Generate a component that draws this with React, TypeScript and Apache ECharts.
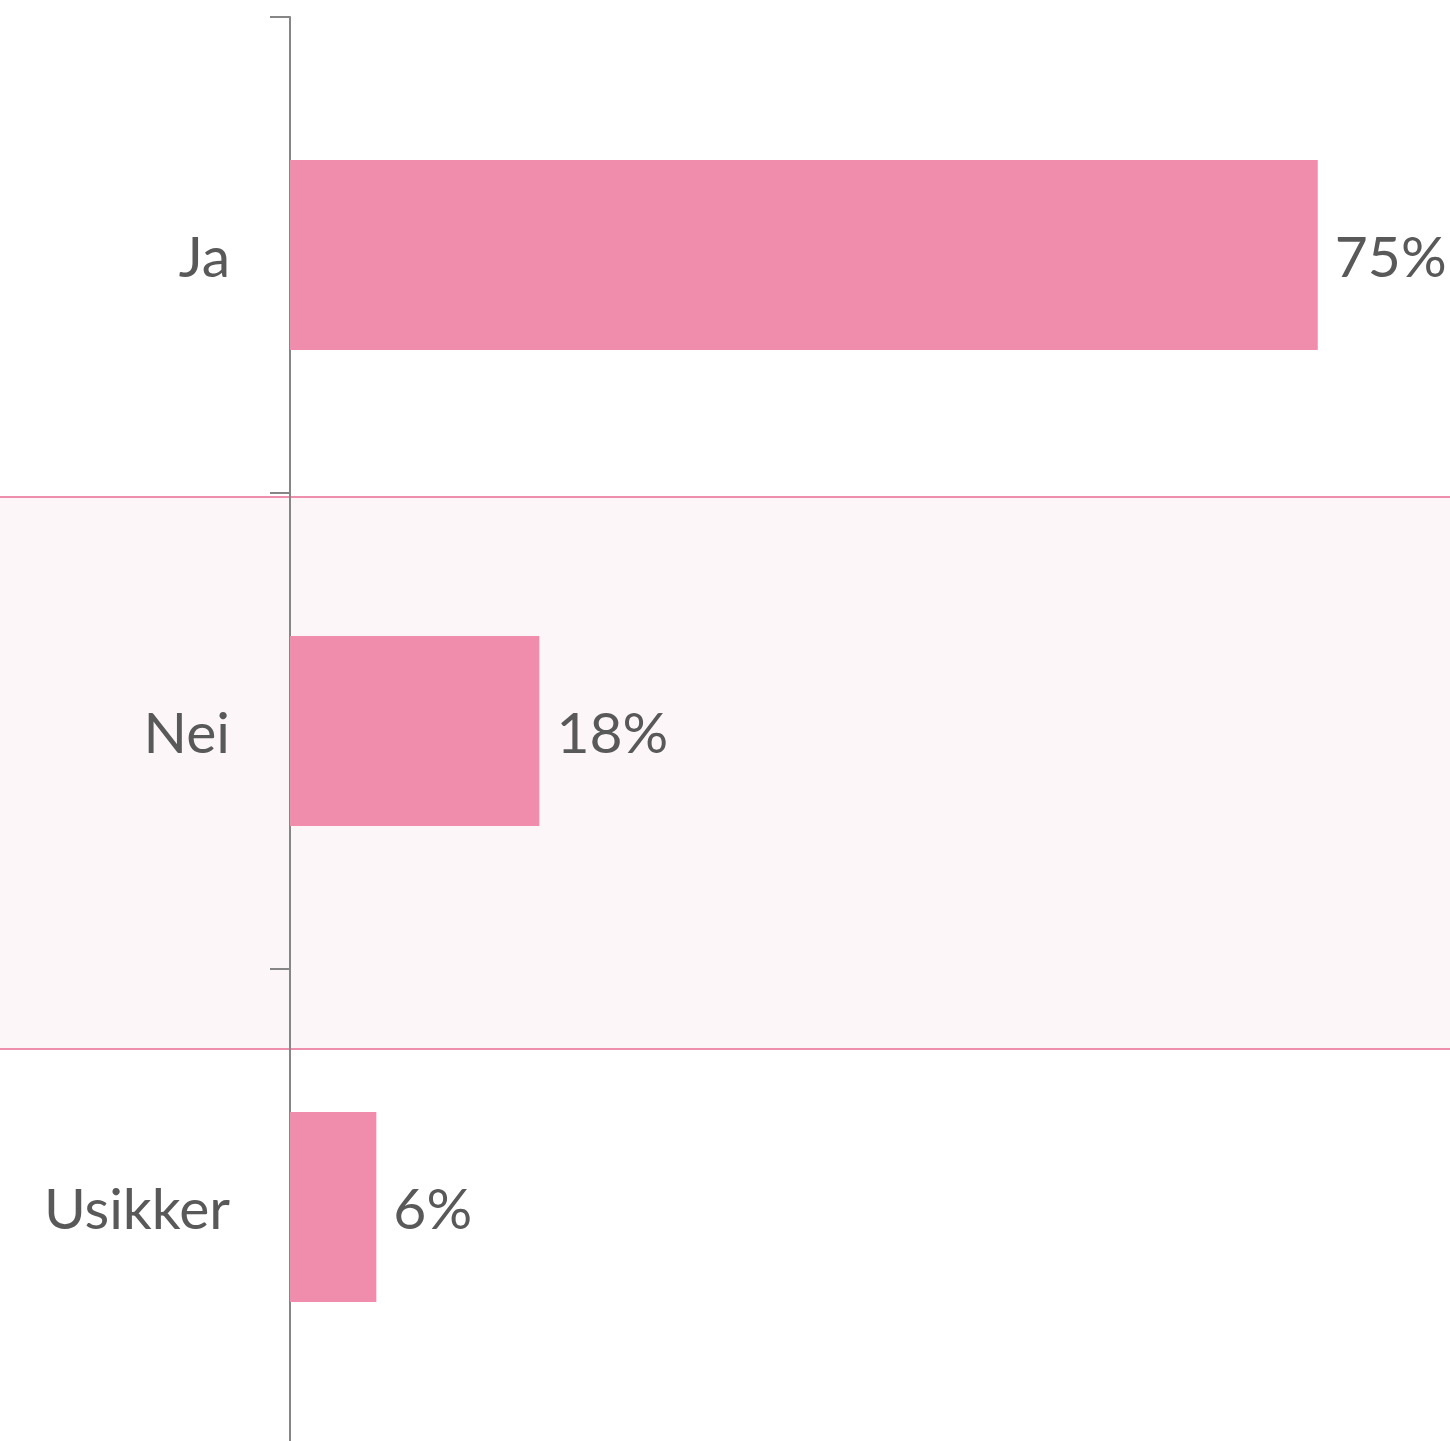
import React, { useEffect, useRef } from "react";
import * as echarts from "echarts";

const categories = ["Ja", "Nei", "Usikker"];
const values = [75, 18.2, 6.3];
const axisMax = 84.65;

export default function App() {
  const ref = useRef<HTMLDivElement>(null);
  useEffect(() => {
    if (!ref.current) return;
    const chart = echarts.init(ref.current, undefined, { renderer: "svg" });
    const font = "Lato, 'Open Sans', sans-serif";
    chart.setOption({
      animation: false,
      backgroundColor: "#ffffff",
      grid: { left: 290, top: 17, right: 0, bottom: 0, containLabel: false },
      xAxis: {
        type: "value",
        min: 0,
        max: axisMax,
        show: false,
      },
      yAxis: {
        type: "category",
        inverse: true,
        data: categories,
        axisLine: { show: true, lineStyle: { color: "#868686", width: 2 } },
        axisTick: { show: true, length: 20, lineStyle: { color: "#868686", width: 2 } },
        axisLabel: { margin: 60, fontSize: 57, color: "#595959", fontFamily: font },
        splitLine: { show: false },
      },
      graphic: [
        {
          type: "rect",
          z: -1,
          shape: { x: 0, y: 497, width: 1450, height: 552 },
          style: { fill: "#fdf6f9" },
        },
        {
          type: "line",
          z: -1,
          shape: { x1: 0, y1: 497, x2: 1450, y2: 497 },
          style: { stroke: "#ee8fae", lineWidth: 2 },
        },
        {
          type: "line",
          z: -1,
          shape: { x1: 0, y1: 1049, x2: 1450, y2: 1049 },
          style: { stroke: "#ee8fae", lineWidth: 2 },
        },
      ],
      series: [
        {
          type: "bar",
          data: values,
          barWidth: 190,
          itemStyle: { color: "#f08dac" },
          label: {
            show: true,
            position: "right",
            distance: 17,
            fontSize: 57,
            color: "#595959",
            fontFamily: font,
            formatter: (p: any) => Math.round(p.value) + "%",
          },
        },
      ],
    });
    return () => chart.dispose();
  }, []);
  return (
    <div
      style={{
        position: "absolute",
        left: 0,
        top: 0,
        width: 1450,
        height: 1441,
        overflow: "hidden",
      }}
    >
      <div ref={ref} style={{ width: 1450, height: 1445 }} />
    </div>
  );
}
